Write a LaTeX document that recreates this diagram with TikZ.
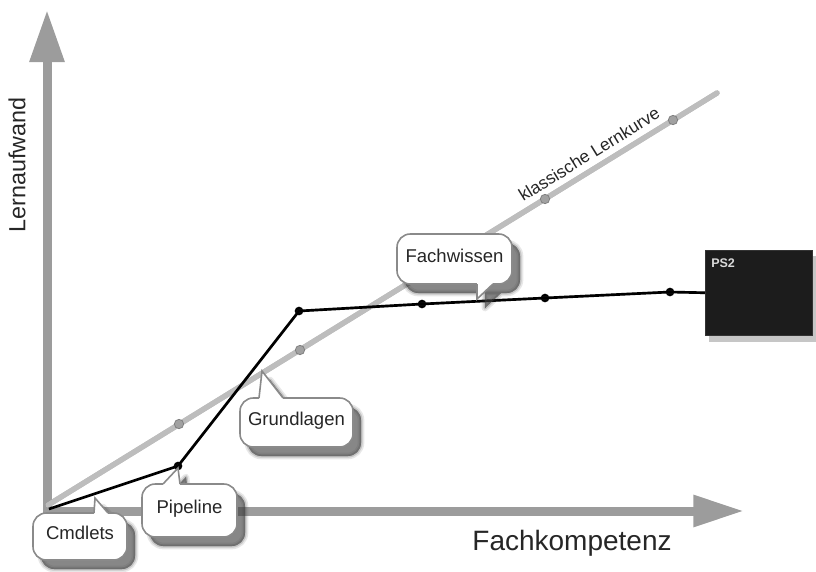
\documentclass[tikz,border=0pt]{standalone}
\usepackage{fontspec}
\setmainfont{Liberation Sans}
\usetikzlibrary{arrows.meta,calc}
\definecolor{axisgray}{HTML}{9C9C9C}
\definecolor{curvegray}{HTML}{BDBDBD}
\definecolor{bordergray}{HTML}{8A8A8A}
\definecolor{shadowgray}{HTML}{3C3C3C}
\definecolor{psbox}{HTML}{1C1C1C}
\tikzset{
  axisline/.style={draw=axisgray, line width=6.75pt},
  classicline/.style={draw=curvegray, line width=4pt, line cap=round},
  blackline/.style={draw=black, line width=2pt, line join=round},
  bdot/.style={circle, fill=black, inner sep=0pt, minimum size=6.5pt},
  gdot/.style={circle, fill=curvegray!85!black, draw=gray, line width=0.6pt, inner sep=0pt, minimum size=7pt},
  bubbletext/.style={font=\fontsize{13.9}{16}\selectfont, text=black!85, inner sep=0pt, text height=0.72em, text depth=0.21em},
}
\newcommand\mybubble[7]{%
  \foreach \lw/\op in {5pt/0.12, 2.5pt/0.2, 0.1pt/0.45}{%
    \path[shift={(8,9)}, fill=shadowgray, draw=shadowgray, line width=\lw, opacity=\op, line join=round]
      [rounded corners=10pt] #2 rectangle #3 [sharp corners] #4 -- #6 -- #5 -- cycle;
  }%
  \path[fill=white, draw=bordergray, line width=1.2pt, rounded corners=10pt] #2 rectangle #3;
  \fill[white] #4 -- #6 -- #5 -- cycle;
  \draw[white, line width=2pt] #4 -- #5;
  \draw[bordergray, line width=1.2pt, line join=miter] #4 -- #6 -- #5;
  \node[bubbletext] (#1) at ($#2!0.5!#3$) {#7};
}
\begin{document}
\begin{tikzpicture}[x=0.75pt,y=-0.75pt]
\useasboundingbox (0,0) rectangle (816,571);
% coordinates
\coordinate (O) at (47,512);
\coordinate (ytip) at (47,10);
\coordinate (xtip) at (744,511);
\coordinate (xorig) at (43,511);
\coordinate (cstart) at (48,505);
\coordinate (cend) at (717,93);
% axes
\draw[axisline, -{Triangle[width=24.75pt, length=39pt]}] (O) -- (ytip);
\draw[axisline, -{Triangle[width=22.5pt, length=38pt]}] (xorig) -- (xtip);
\node[rotate=90, font=\fontsize{17.5}{20}\selectfont, text=black!85] (ylab) at (17,165) {Lernaufwand};
\node[font=\fontsize{21}{24}\selectfont, text=black!85] (xlab) at (572,543) {Fachkompetenz};
% classic learning curve
\draw[classicline, draw=shadowgray, opacity=0.35, shift={(2,3)}] (cstart) -- (cend);
\draw[classicline] (cstart) -- (cend);
\node[gdot] (g1) at (179,424) {};
\node[gdot] (g2) at (300,350) {};
\node[gdot] (g3) at (545,199) {};
\node[gdot] (g4) at (673,120) {};
\node[rotate=31.7, font=\fontsize{13}{15}\selectfont, text=black!85] (clab) at (589,154) {klassische Lernkurve};
% PS2 box
\fill[gray, opacity=0.45] (709,256) rectangle (816,342);
\node[draw=black!80, fill=psbox, anchor=north west, minimum width=80.25pt, minimum height=63.75pt, inner sep=0pt] (ps2) at (705,250) {};
\node[anchor=west, text=white!85!black, font=\fontsize{9.4}{11}\bfseries\selectfont, inner sep=0pt] (ps2lab) at (711,263) {PS2};
% black curve
\coordinate (b0) at (49,509);
\node[bdot] (b1) at (178,466) {};
\node[bdot] (b2) at (299,311) {};
\node[bdot] (b3) at (422,304) {};
\node[bdot] (b4) at (545,298) {};
\node[bdot] (b5) at (670,292) {};
\draw[blackline, draw=gray, opacity=0.35, shift={(2,3)}] (b0) -- (b1.center) -- (b2.center) -- (b3.center) -- (b4.center) -- (b5.center) -- (ps2.west);
\draw[blackline] (b0) -- (b1.center) -- (b2.center) -- (b3.center) -- (b4.center) -- (b5.center) -- (ps2.west);
% callouts
\mybubble{cmdlets}{(33,513)}{(127,560)}{(94,513)}{(108,513)}{(95,498)}{Cmdlets}
\mybubble{pipeline}{(142,484)}{(237,537)}{(163,484)}{(180,484)}{(178,468)}{Pipeline}
\mybubble{grundlagen}{(240,398)}{(353,447)}{(259,398)}{(283,398)}{(262,371)}{Grundlagen}
\mybubble{fachwissen}{(397,234)}{(512,284)}{(477,284)}{(493,284)}{(477,299)}{Fachwissen}
\end{tikzpicture}
\end{document}
